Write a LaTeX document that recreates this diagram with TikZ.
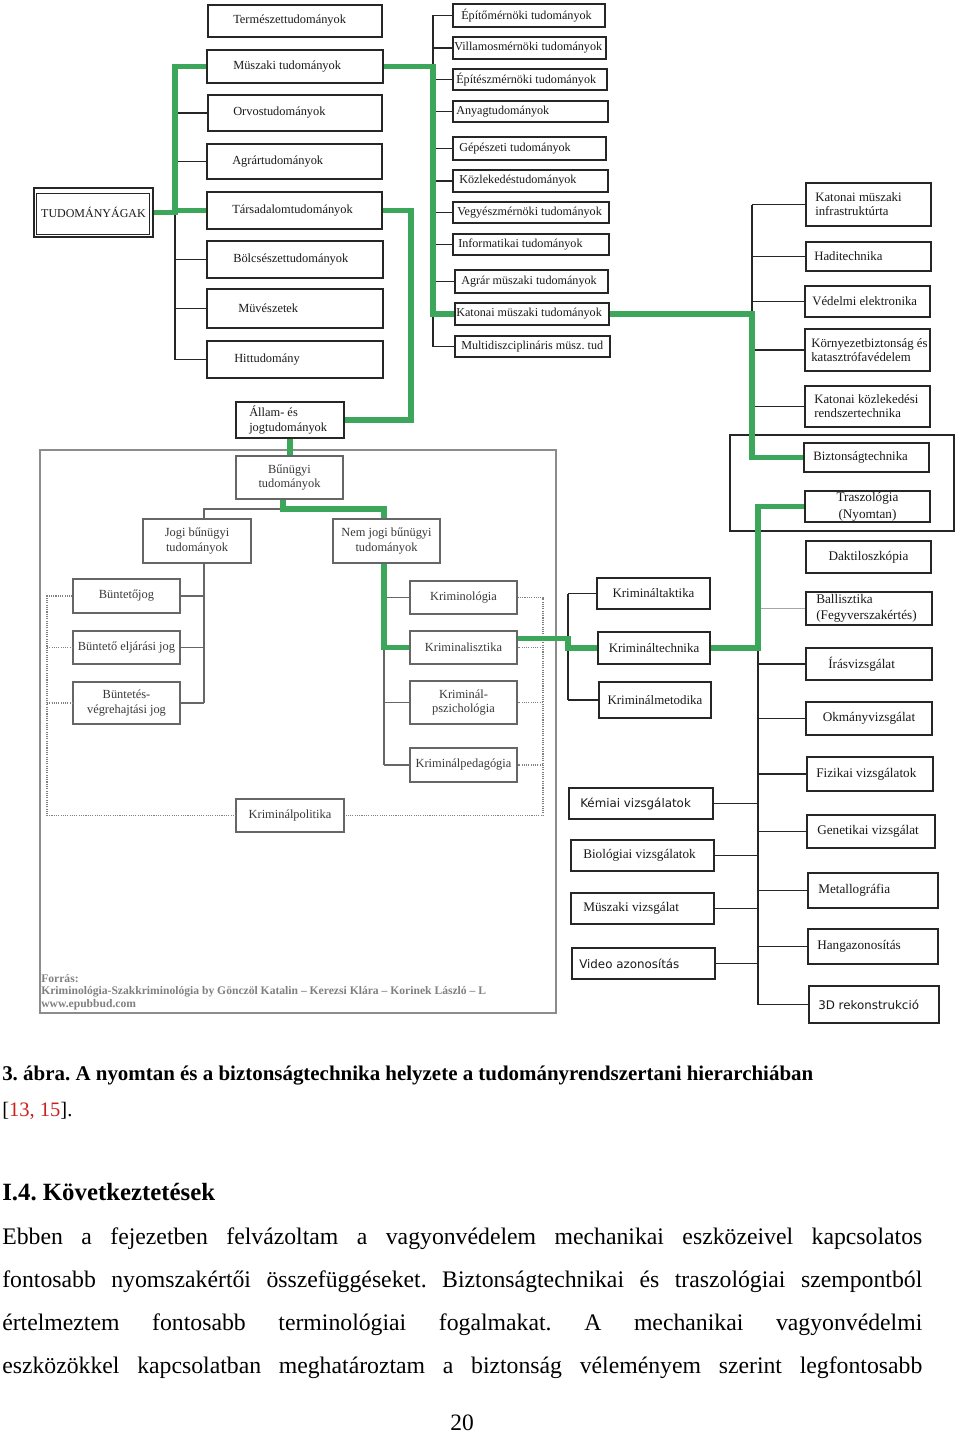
\documentclass[tikz,border=0pt]{standalone}
\usepackage{fontspec}
\setmainfont{Liberation Serif}
\newfontfamily\dvsans{DejaVu Sans}
\usetikzlibrary{calc}
\definecolor{grn}{RGB}{60,166,90}
\definecolor{refred}{RGB}{205,30,30}
\newcommand\mkbox[7][]{\node[bbox,#1,minimum width={(#5-#3)*0.75pt},minimum height={(#6-#4)*0.75pt}] (#2) at ({(#3+#5)/2},{(#4+#6)/2}) {#7};}
\newcommand\mklbox[8][]{\node[bbox,#1,minimum width={(#5-#3)*0.75pt},minimum height={(#6-#4)*0.75pt}] (#2) at ({(#3+#5)/2},{(#4+#6)/2}) {};\node[ltxt,anchor=west] (#2-t) at (#7,{(#4+#6)/2}) {#8};}
\frenchspacing
\begin{document}
\begin{tikzpicture}[x=0.75pt,y=-0.75pt,
  bbox/.style={draw=black!85,line width=0.95pt,inner sep=0pt,align=center,text=black!90,font=\fontsize{9.3}{11}\selectfont},
  ltxt/.style={inner sep=0pt,align=left,text=black!90,font=\fontsize{9.3}{11}\selectfont},
  cbox/.style={draw=black!60,text=black!78},
  gline/.style={draw=grn,line width=3.9pt},
  conn/.style={draw=black!85,line width=0.9pt},
  cconn/.style={draw=black!60,line width=0.9pt},
  dots/.style={draw=black!50,line width=0.8pt,dash pattern=on 0.8pt off 0.9pt},
  body/.style={inner sep=0pt,anchor=base west,font=\fontsize{17.8}{20}\selectfont}]
\fill[white] (0,0) rectangle (960,1434);
\useasboundingbox (0,0) rectangle (960,1434);

% frames
\mkbox[draw=black!45,line width=0.9pt]{kframe}{40}{450}{556}{1013}{}
\mkbox[draw=black!85]{bframe}{730}{435}{954}{531}{}

% root
\mkbox[font=\fontsize{9}{11}\selectfont]{tud}{34}{188}{153}{237}{TUDOMÁNYÁGAK}
\draw[black!85,line width=0.9pt] ([shift={(3,6)}]tud.north west) rectangle ([shift={(-4,-3)}]tud.south east);

% left column
\mklbox{nat}{208}{5}{382}{37}{233}{Természettudományok}
\mklbox{musz}{207}{50}{383}{83}{233}{Müszaki tudományok}
\mklbox{orv}{208}{95}{382}{131}{233}{Orvostudományok}
\mklbox{agr}{207}{144}{382}{179}{232}{Agrártudományok}
\mklbox{tars}{207}{192}{382}{229}{232}{Társadalomtudományok}
\mklbox{bolcs}{207}{241}{383}{278}{233}{Bölcsészettudományok}
\mklbox{muv}{207}{289}{383}{328}{238}{Müvészetek}
\mklbox{hit}{207}{341}{383}{378}{234}{Hittudomány}

% middle column
\begin{scope}[ltxt/.append style={font=\fontsize{9.1}{11}\selectfont}]
\mklbox{c1}{453}{4}{605}{27}{461}{Építőmérnöki tudományok}
\mklbox{c2}{453}{37}{606}{59}{454}{Villamosmérnöki tudományok}
\mklbox{c3}{453}{69}{607}{90}{456}{Építészmérnöki tudományok}
\mklbox{c4}{453}{101}{608}{122}{456}{Anyagtudományok}
\mklbox{c5}{453}{137}{606}{160}{459}{Gépészeti tudományok}
\mklbox{c6}{453}{170}{608}{192}{459}{Közlekedéstudományok}
\mklbox{c7}{453}{202}{609}{223}{457}{Vegyészmérnöki tudományok}
\mklbox{c8}{453}{234}{609}{255}{458}{Informatikai tudományok}
\mklbox{c9}{455}{270}{608}{293}{461}{Agrár müszaki tudományok}
\mklbox{c10}{455}{303}{609}{325}{456}{Katonai müszaki tudományok}
\mklbox{c11}{455}{336}{610}{357}{461}{Multidiszciplináris müsz. tud}
\end{scope}

% right column (top)
\begin{scope}[ltxt/.append style={font=\fontsize{9.6}{10.6}\selectfont}]
\mklbox{r1}{806}{183}{931}{226}{815}{Katonai müszaki\\infrastruktúrta}
\mklbox{r2}{806}{242}{931}{271}{814}{Haditechnika}
\mklbox{r3}{805}{286}{930}{317}{812}{Védelmi elektronika}
\mklbox{r4}{805}{329}{930}{371}{811}{Környezetbiztonság és\\katasztrófavédelem}
\mklbox{r5}{805}{386}{930}{427}{814}{Katonai közlekedési\\rendszertechnika}
\mklbox{bizt}{804}{443}{929}{472}{813}{Biztonságtechnika}
\end{scope}

% right column (bottom)
\begin{scope}[bbox/.append style={font=\fontsize{9.9}{12.6}\selectfont},ltxt/.append style={font=\fontsize{9.9}{12}\selectfont}]
\mkbox{trasz}{805}{491}{930}{522}{Traszológia\\(Nyomtan)}
\mkbox{dakt}{806}{541}{931}{573}{Daktiloszkópia}
\mklbox{ball}{806}{592}{932}{625}{816}{Ballisztika\\(Fegyverszakértés)}
\mklbox{iras}{806}{648}{932}{680}{828}{Írásvizsgálat}
\mkbox{okm}{806}{702}{932}{735}{Okmányvizsgálat}
\mklbox{fiz}{807}{757}{933}{791}{816}{Fizikai vizsgálatok}
\mklbox{gen}{807}{815}{935}{848}{817}{Genetikai vizsgálat}
\mklbox{met}{808}{873}{938}{908}{818}{Metallográfia}
\mklbox{hang}{808}{929}{938}{964}{817}{Hangazonosítás}
\mklbox{bio}{571}{840}{714}{871}{583}{Biológiai vizsgálatok}
\mklbox{muszv}{571}{893}{714}{924}{583}{Müszaki vizsgálat}
\end{scope}
\begin{scope}[ltxt/.append style={font=\dvsans\fontsize{8.9}{11}\selectfont}]
\mklbox{d3}{809}{986}{939}{1023}{818}{3D rekonstrukció}
\mklbox{kem}{569}{788}{713}{819}{580}{Kémiai vizsgálatok}
\mklbox{vid}{572}{948}{715}{979}{579}{Video azonosítás}
\end{scope}

% kriminal techn.
\begin{scope}[bbox/.append style={font=\fontsize{9.7}{11}\selectfont}]
\mkbox{ktakt}{597}{578}{710}{609}{Krimináltaktika}
\mkbox{ktech}{598}{632}{710}{664}{Krimináltechnika}
\mkbox{kmet}{599}{682}{711}{718}{Kriminálmetodika}
\end{scope}

% criminal sciences
\mklbox{allam}{236}{402}{344}{438}{249}{Állam- és\\jogtudományok}
\begin{scope}[bbox/.append style={cbox,font=\fontsize{9.3}{10.6}\selectfont}]
\mkbox{bun}{236}{456}{343}{499}{Bűnügyi\\tudományok}
\mkbox{jogi}{143}{519}{251}{563}{Jogi bűnügyi\\tudományok}
\mkbox{nemj}{333}{519}{440}{563}{Nem jogi bűnügyi\\tudományok}
\mkbox{btj}{73}{579}{180}{613}{Büntetőjog}
\mkbox{bej}{73}{631}{180}{664}{Büntető eljárási jog}
\mkbox{bvh}{73}{682}{180}{724}{Büntetés-\\végrehajtási jog}
\mkbox{kmlg}{410}{581}{517}{614}{Kriminológia}
\mkbox{kmls}{410}{631}{517}{664}{Kriminalisztika}
\mkbox{kmps}{410}{681}{517}{724}{Kriminál-\\pszichológia}
\mkbox{kmpd}{410}{748}{517}{782}{Kriminálpedagógia}
\mkbox{kpol}{236}{799}{344}{832}{Kriminálpolitika}
\end{scope}

% bus coordinates
\coordinate (busL) at (175,0);
\coordinate (busM) at (433,0);
\coordinate (busT) at (411,0);
\coordinate (busR) at (752,0);
\coordinate (busJ) at (204,0);
\coordinate (busN) at (384,0);
\coordinate (bj) at (283,509);
\coordinate (busK) at (568,0);
\coordinate (busB) at (758,0);
\coordinate (dl) at (47,0);
\coordinate (dr) at (543,0);

% thin connectors
\draw[conn] (busL |- musz.west) -- (busL |- hit.west);
\foreach \n in {orv,agr,bolcs,muv,hit} \draw[conn] (busL |- \n.west) -- (\n.west);
\draw[conn] (busM |- c1.west) -- (busM |- c11.west);
\foreach \n in {c1,c2,c3,c4,c5,c6,c7,c8,c9,c11} \draw[conn] (busM |- \n.west) -- (\n.west);
\draw[conn] (busR |- r1.west) -- (busR |- bizt.west);
\foreach \n in {r1,r2,r3,r4,r5} \draw[conn] (busR |- \n.west) -- (\n.west);
\draw[cconn] (bj) -- (busJ |- bj) -- (busJ |- jogi.north);
\draw[cconn] (busJ |- jogi.south) -- (busJ |- bvh.east);
\foreach \n in {btj,bej,bvh} \draw[cconn] (busJ |- \n.east) -- (\n.east);
\draw[cconn] (busN |- kmls.west) -- (busN |- kmpd.west);
\foreach \n in {kmlg,kmps,kmpd} \draw[cconn] (busN |- \n.west) -- (\n.west);
\draw[conn] (busK |- ktakt.west) -- (busK |- kmet.west);
\foreach \n in {ktakt,kmet} \draw[conn] (busK |- \n.west) -- (\n.west);
\draw[conn] (busB |- ktech.east) -- (busB |- d3.west);
\draw[conn,draw=black!35] (busB |- ball.west) -- (ball.west);
\foreach \n in {iras,okm,fiz,gen,met,hang,d3} \draw[conn] (busB |- \n.west) -- (\n.west);
\foreach \n in {kem,bio,muszv,vid} \draw[conn] (busB |- \n.east) -- (\n.east);

% dotted
\draw[dots] (btj.west) -- (dl |- btj.west) -- (dl |- kpol.west) -- (kpol.west);
\foreach \n in {bej,bvh} \draw[dots] (dl |- \n.west) -- (\n.west);
\draw[dots] (kmlg.east) -- (dr |- kmlg.east) -- (dr |- kpol.east) -- (kpol.east);
\foreach \n in {kmls,kmps,kmpd} \draw[dots] (dr |- \n.east) -- (\n.east);

% green path
\draw[gline] (tud.east) -- (tud.east -| busL) |- (musz.west);
\draw[gline] (tud.east -| busL) |- (tars.west);
\draw[gline] (musz.east) -- (musz.east -| busM) |- (c10.west);
\draw[gline] (c10.east) -- (c10.east -| busR) |- (bizt.west);
\draw[gline] (tars.east) -- (tars.east -| busT) |- (allam.east);
\draw[gline] (allam.south) -- (allam.south |- bun.north);
\draw[gline] (bun.south -| bj) -- (bj) -- (busN |- bj) -- (busN |- nemj.north);
\draw[gline] (busN |- nemj.south) -- (busN |- kmls.west) -- (kmls.west);
\draw[gline] ([yshift=6.75pt]kmls.east) -| (busK |- ktech.west) -- (ktech.west);
\draw[gline] (ktech.east) -- (ktech.east -| busB) |- (trasz.west);

% source
\node[inner sep=0pt,anchor=west,align=left,text=black!50,font=\bfseries\fontsize{8.7}{9.4}\selectfont] (src) at (41,992) {Forrás:\\Kriminológia-Szakkriminológia by Gönczöl Katalin – Kerezsi Klára – Korinek László – L\\www.epubbud.com};

% text below
\node[inner sep=0pt,anchor=base west,font=\bfseries\fontsize{15.7}{18}\selectfont] (cap) at (2,1080) {3. ábra. A nyomtan és a biztonságtechnika helyzete a tudományrendszertani hierarchiában};
\node[inner sep=0pt,anchor=base west,font=\fontsize{15.4}{18}\selectfont] (refs) at (2,1116) {[{\color{refred}13, 15}].};
\node[inner sep=0pt,anchor=base west,font=\bfseries\fontsize{18.6}{22}\selectfont] (head) at (2,1200) {I.4. Következtetések};
\node[body] (p1) at (2,1244) {\makebox[690pt][s]{Ebben a fejezetben felvázoltam a vagyonvédelem mechanikai eszközeivel kapcsolatos}};
\node[body] (p2) at (2,1287) {\makebox[690pt][s]{fontosabb nyomszakértői összefüggéseket. Biztonságtechnikai és traszológiai szempontból}};
\node[body] (p3) at (2,1330) {\makebox[690pt][s]{értelmeztem fontosabb terminológiai fogalmakat. A mechanikai vagyonvédelmi}};
\node[body] (p4) at (2,1373) {\makebox[690pt][s]{eszközökkel kapcsolatban meghatároztam a biztonság véleményem szerint legfontosabb}};
\node[inner sep=0pt,anchor=base,font=\fontsize{17.6}{20}\selectfont] (pg) at (462,1430) {20};
\end{tikzpicture}
\end{document}
